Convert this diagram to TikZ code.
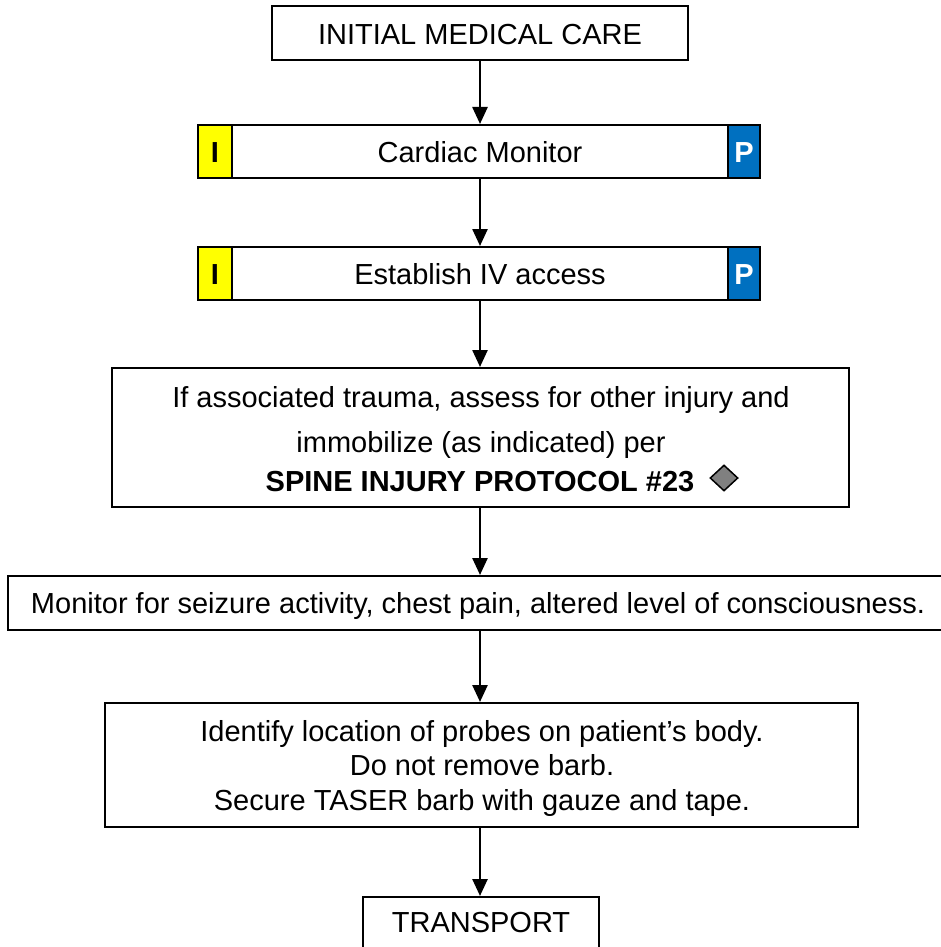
\documentclass[tikz,border=0pt]{standalone}
\usepackage{fontspec}
\setmainfont{Liberation Sans}
\usetikzlibrary{arrows.meta,shapes.geometric}
\definecolor{ipyellow}{HTML}{FFFF00}
\definecolor{ipblue}{HTML}{0070C0}
\definecolor{diagray}{HTML}{808080}
\begin{document}
\begin{tikzpicture}[x=1pt,y=-1pt,
  box/.style={draw=black, line width=2pt, fill=white, rectangle, inner sep=0pt},
  txt/.style={inner sep=0pt, anchor=base, font=\fontsize{29}{34}\selectfont},
  btxt/.style={inner sep=0pt, anchor=base, font=\fontsize{29}{34}\selectfont\bfseries},
  ibox/.style={draw=black, line width=2pt, fill=ipyellow, rectangle, inner sep=0pt},
  pbox/.style={draw=black, line width=2pt, fill=ipblue, rectangle, inner sep=0pt},
  flow/.style={draw=black, line width=2.5pt, -{Triangle[length=17pt,width=15pt]}}
]
\useasboundingbox (0,0) rectangle (941,947);
\clip (0,0) rectangle (941,947);

% boxes
\node[box, minimum width=416pt, minimum height=54pt] (init) at (480,33) {};
\node[txt] (initT) at (480,45) {INITIAL MEDICAL CARE};

\node[box, minimum width=562pt, minimum height=53pt] (cardiac) at (479,151.5) {};
\node[ibox, minimum width=34pt, minimum height=53pt] (cardI) at (215,151.5) {};
\node[pbox, minimum width=32pt, minimum height=53pt] (cardP) at (744,151.5) {};
\node[txt] (cardT) at (480,162) {Cardiac Monitor};
\node[btxt] (cardIT) at (215,162) {I};
\node[btxt, text=white] (cardPT) at (744,162) {P};

\node[box, minimum width=562pt, minimum height=53pt] (iv) at (479,273.5) {};
\node[ibox, minimum width=34pt, minimum height=53pt] (ivI) at (215,273.5) {};
\node[pbox, minimum width=32pt, minimum height=53pt] (ivP) at (744,273.5) {};
\node[txt] (ivT) at (480,284) {Establish IV access};
\node[btxt] (ivIT) at (215,284) {I};
\node[btxt, text=white] (ivPT) at (744,284) {P};

\node[box, minimum width=737pt, minimum height=139pt] (trauma) at (480.5,437.5) {};
\node[txt] (tr1) at (481,407) {If associated trauma, assess for other injury and};
\node[txt] (tr2) at (481,452) {immobilize (as indicated) per};
\node[btxt] (tr3) at (480,491) {SPINE INJURY PROTOCOL \#23};
\node[diamond, draw=black, line width=1.5pt, fill=diagray, inner sep=0pt,
      minimum width=28pt, minimum height=26pt] (dia) at (724,478) {};

\node[box, minimum width=942pt, minimum height=54pt] (monitor) at (479,603) {};
\node[txt] (monT) at (478,613) {Monitor for seizure activity, chest pain, altered level of consciousness.};

\node[box, minimum width=753pt, minimum height=124pt] (probes) at (481.5,765) {};
\node[txt] (pr1) at (482,741) {Identify location of probes on patient’s body.};
\node[txt] (pr2) at (482,775) {Do not remove barb.};
\node[txt] (pr3) at (482,810) {Secure TASER barb with gauze and tape.};

\node[box, minimum width=236pt, minimum height=60pt] (transport) at (481,927) {};
\node[txt] (trT) at (481,932) {TRANSPORT};

% connectors
\draw[flow] (init.south -| 480,0) -- (cardiac.north -| 480,0);
\draw[flow] (cardiac.south -| 480,0) -- (iv.north -| 480,0);
\draw[flow] (iv.south -| 480,0) -- (trauma.north -| 480,0);
\draw[flow] (trauma.south -| 480,0) -- (monitor.north -| 480,0);
\draw[flow] (monitor.south -| 480,0) -- (probes.north -| 480,0);
\draw[flow] (probes.south -| 480,0) -- (transport.north -| 480,0);
\end{tikzpicture}
\end{document}
